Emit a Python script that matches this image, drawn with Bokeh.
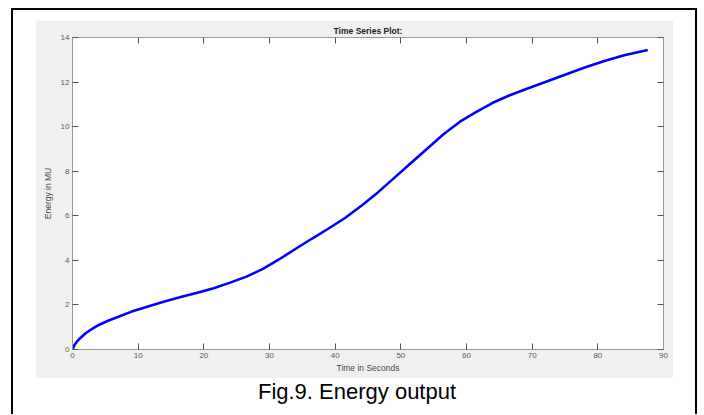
from bokeh.plotting import figure
from bokeh.models import LinearAxis, Range1d, Div, FixedTicker, Spacer
from bokeh.layouts import column, row
from bokeh.embed import file_html
from bokeh.resources import INLINE

# Data
time_s = [0, 0.3, 0.7, 1.2, 2, 3, 4, 5.5, 7, 9, 11.5, 14, 16.5, 19, 21.5, 24,
          26.5, 29, 31.5, 34, 36.5, 39, 41.5, 44, 46.5, 49, 51.5, 54, 56.5,
          59, 61.5, 64, 66.5, 69, 72, 75, 78, 81, 84, 87.6]
energy = [0, 0.2, 0.36, 0.52, 0.73, 0.93, 1.1, 1.3, 1.47, 1.7, 1.93, 2.15,
          2.36, 2.55, 2.75, 3.0, 3.27, 3.62, 4.05, 4.52, 4.98, 5.43, 5.9,
          6.45, 7.05, 7.7, 8.36, 9.01, 9.66, 10.22, 10.66, 11.07, 11.4, 11.68,
          12.0, 12.33, 12.65, 12.95, 13.2, 13.44]
x_ticks = [0, 10, 20, 30, 40, 50, 60, 70, 80, 90]
y_ticks = [0, 2, 4, 6, 8, 10, 12, 14]

title_text = "Time Series Plot:"
x_label = "Time in Seconds"
y_label = "Energy in MU"
caption = "Fig.9. Energy output"

FONT = "Liberation Sans"
AXIS_COL = "#9a9a9a"
TICK_COL = "#555555"
LABEL_COL = "#5a5a5a"

p = figure(width=638, height=358,
           x_range=Range1d(0, 90), y_range=Range1d(0, 14),
           toolbar_location=None, output_backend="svg",
           min_border_left=37, min_border_top=17,
           min_border_right=10, min_border_bottom=29,
           background_fill_color="white", border_fill_color="#f0f0f0",
           outline_line_color=None, margin=0)

p.line(time_s, energy, line_color="#0000ff", line_width=2.6)

p.xgrid.visible = False
p.ygrid.visible = False


def style_axis(ax, ticks, show_labels=True):
    ax.ticker = FixedTicker(ticks=ticks)
    ax.major_tick_in = 6
    ax.major_tick_out = 0
    ax.minor_tick_line_color = None
    ax.axis_line_color = AXIS_COL
    ax.major_tick_line_color = TICK_COL
    ax.major_label_text_font = FONT
    ax.major_label_text_color = LABEL_COL
    ax.axis_label_text_font = FONT
    ax.axis_label_text_font_style = "normal"
    ax.axis_label_text_color = "#4a4a4a"
    ax.axis_label_text_font_size = "8.5px"
    if show_labels:
        ax.major_label_text_font_size = "8px"
        ax.major_label_standoff = 3
    else:
        ax.major_label_overrides = {t: "" for t in ticks}
        ax.major_label_text_font_size = "1px"
        ax.major_label_standoff = 0


xa = p.xaxis[0]
style_axis(xa, x_ticks)
xa.axis_label = x_label
xa.axis_label_standoff = 2

ya = p.yaxis[0]
style_axis(ya, y_ticks)
ya.axis_label = y_label
ya.axis_label_standoff = 5

top = LinearAxis()
style_axis(top, x_ticks, show_labels=False)
top.axis_label = title_text
top.axis_label_text_font_style = "bold"
top.axis_label_text_color = "#222222"
top.axis_label_text_font_size = "8.5px"
top.axis_label_standoff = 2
p.add_layout(top, "above")

right = LinearAxis()
style_axis(right, y_ticks, show_labels=False)
p.add_layout(right, "right")

cap = Div(text=caption, width=644, height=26, margin=0,
          styles={"font-family": "Liberation Sans, Arial, sans-serif",
                  "font-size": "22px", "color": "#000000",
                  "text-align": "center", "line-height": "24px"})

H = 406
black = {"background-color": "#000000"}
left_line = Div(text="", width=2, height=H, margin=0, styles=black)
right_line = Div(text="", width=2, height=H, margin=0, styles=black)
top_line = Div(text="", width=682, height=2, margin=0, styles=black)

inner = column(top_line,
               Spacer(width=682, height=10, margin=0),
               row(Spacer(width=22, height=358, margin=0), p, margin=0),
               Spacer(width=682, height=2, margin=0),
               row(Spacer(width=22, height=26, margin=0), cap, margin=0),
               margin=0)

page = column(Spacer(width=700, height=8, margin=0),
              row(Spacer(width=11, height=H, margin=0), left_line, inner,
                  right_line, margin=0),
              margin=0)

open("out.html", "w").write(file_html(page, INLINE))
